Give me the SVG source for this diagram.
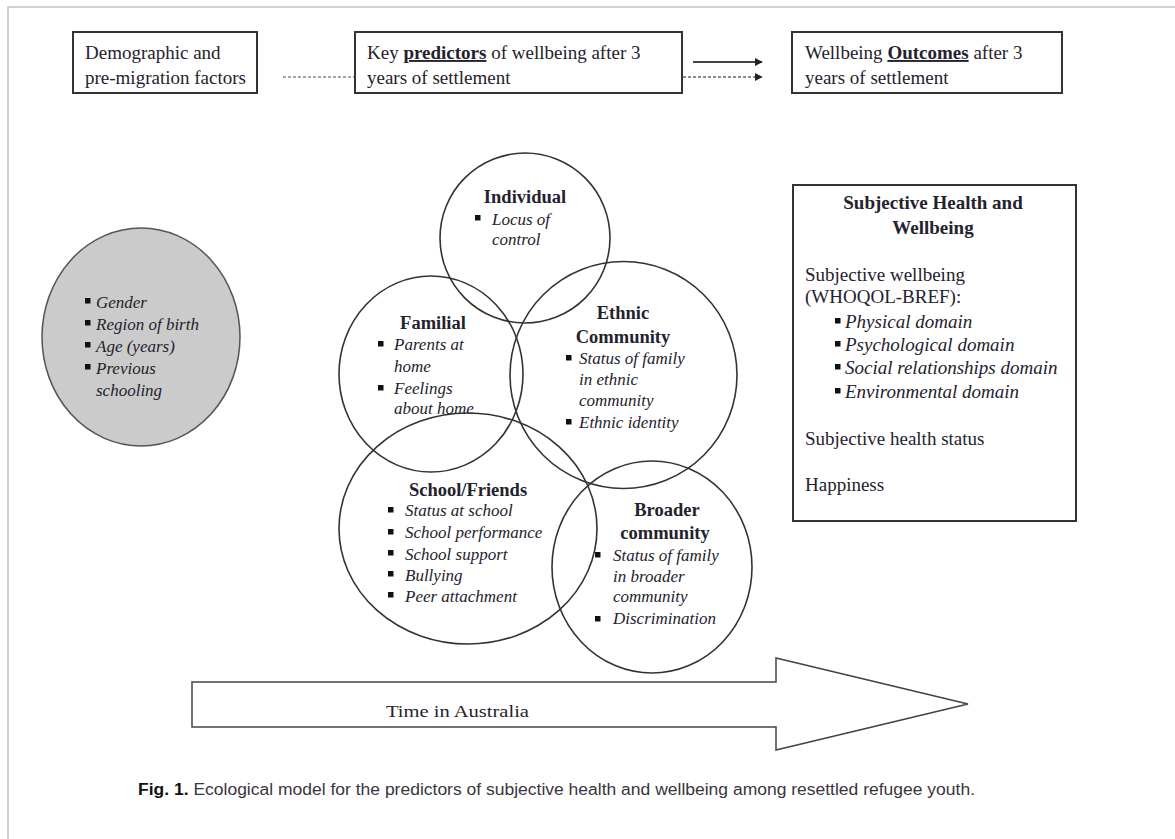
<svg xmlns="http://www.w3.org/2000/svg" width="1175" height="839" viewBox="0 0 1175 839">
<style>
.t{font-family:"Liberation Serif","Times New Roman",serif;font-size:17px;fill:#24222e}
.l{font-size:19px}
.h{font-size:18.5px}
.i{font-style:italic}
.b{font-weight:bold}
.c{text-anchor:middle}
.box{fill:#fff;stroke:#333;stroke-width:2}
.circ{fill:none;stroke:#333;stroke-width:1.6}
.bul{fill:#111}
.cap{font-family:"Liberation Sans",Arial,sans-serif;font-size:16px;fill:#3a3540}
</style>
<defs>
<marker id="ah" viewBox="0 0 10 10" refX="9" refY="5" markerWidth="8" markerHeight="8" markerUnits="userSpaceOnUse" orient="auto">
<path d="M0,0 L10,5 L0,10 z" fill="#222"/>
</marker>
</defs>
<rect width="1175" height="839" fill="#fff"/>
<path d="M8,839 V7 H1175" fill="none" stroke="#c4c4c4" stroke-width="1.5"/>

<g id="connectors">
<line x1="283" y1="77" x2="355" y2="77" stroke="#888" stroke-width="1.5" stroke-dasharray="3,2"/>
<line x1="693" y1="62" x2="762" y2="62" stroke="#444" stroke-width="2.2" marker-end="url(#ah)"/>
<line x1="683" y1="77" x2="762" y2="77" stroke="#666" stroke-width="1.6" stroke-dasharray="3,2" marker-end="url(#ah)"/>
</g>

<g id="box-demographic">
<rect class="box" x="73" y="32" width="184" height="61"/>
<text class="t l" x="85" y="59">Demographic and</text>
<text class="t l" x="85" y="84">pre-migration factors</text>
</g>

<g id="box-predictors">
<rect class="box" x="355" y="32" width="327" height="61"/>
<text class="t l" x="367" y="59">Key <tspan class="b" text-decoration="underline">predictors</tspan> of wellbeing after 3</text>
<text class="t l" x="367" y="84">years of settlement</text>
</g>

<g id="box-outcomes">
<rect class="box" x="792" y="32" width="270" height="61"/>
<text class="t l" x="805" y="59">Wellbeing <tspan class="b" text-decoration="underline">Outcomes</tspan> after 3</text>
<text class="t l" x="805" y="84">years of settlement</text>
</g>

<g id="demographic-factors">
<ellipse cx="141" cy="337" rx="99" ry="109" fill="#cbcbcb" stroke="#555" stroke-width="1.5"/>
<rect class="bul" x="85" y="298" width="5.5" height="5.5"/>
<rect class="bul" x="85" y="320" width="5.5" height="5.5"/>
<rect class="bul" x="85" y="342" width="5.5" height="5.5"/>
<rect class="bul" x="85" y="364" width="5.5" height="5.5"/>
<text class="t i" x="96" y="308">Gender</text>
<text class="t i" x="96" y="330">Region of birth</text>
<text class="t i" x="96" y="352">Age (years)</text>
<text class="t i" x="96" y="374">Previous</text>
<text class="t i" x="96" y="396">schooling</text>
</g>

<g id="individual">
<circle class="circ" cx="525" cy="238" r="85"/>
<text class="t h b c" x="525" y="203">Individual</text>
<rect class="bul" x="475" y="215" width="5.5" height="5.5"/>
<text class="t i" x="492" y="225">Locus of</text>
<text class="t i" x="492" y="245">control</text>
</g>

<g id="familial">
<ellipse class="circ" cx="431" cy="374" rx="92" ry="98"/>
<text class="t h b c" x="433" y="329">Familial</text>
<rect class="bul" x="378" y="341" width="5.5" height="5.5"/>
<rect class="bul" x="378" y="385" width="5.5" height="5.5"/>
<text class="t i" x="394" y="350">Parents at</text>
<text class="t i" x="394" y="372">home</text>
<text class="t i" x="394" y="394">Feelings</text>
<text class="t i" x="394" y="414">about home</text>
</g>

<g id="ethnic-community">
<circle class="circ" cx="623.5" cy="375" r="113.5"/>
<text class="t h b c" x="623" y="319">Ethnic</text>
<text class="t h b c" x="623" y="343">Community</text>
<rect class="bul" x="566" y="355" width="5.5" height="5.5"/>
<rect class="bul" x="566" y="419" width="5.5" height="5.5"/>
<text class="t i" x="579" y="364">Status of family</text>
<text class="t i" x="579" y="385">in ethnic</text>
<text class="t i" x="579" y="406">community</text>
<text class="t i" x="579" y="428">Ethnic identity</text>
</g>

<g id="school-friends">
<ellipse class="circ" cx="468" cy="528.5" rx="129" ry="115.5"/>
<text class="t h b c" x="468" y="496">School/Friends</text>
<rect class="bul" x="388" y="507" width="5.5" height="5.5"/>
<rect class="bul" x="388" y="529" width="5.5" height="5.5"/>
<rect class="bul" x="388" y="550" width="5.5" height="5.5"/>
<rect class="bul" x="388" y="571" width="5.5" height="5.5"/>
<rect class="bul" x="388" y="592" width="5.5" height="5.5"/>
<text class="t i" x="405" y="516">Status at school</text>
<text class="t i" x="405" y="538">School performance</text>
<text class="t i" x="405" y="560">School support</text>
<text class="t i" x="405" y="581">Bullying</text>
<text class="t i" x="405" y="602">Peer attachment</text>
</g>

<g id="broader-community">
<ellipse class="circ" cx="652" cy="567" rx="100" ry="106"/>
<text class="t h b c" x="667" y="516">Broader</text>
<text class="t h b c" x="665" y="539">community</text>
<rect class="bul" x="595" y="552" width="5.5" height="5.5"/>
<rect class="bul" x="595" y="616" width="5.5" height="5.5"/>
<text class="t i" x="613" y="561">Status of family</text>
<text class="t i" x="613" y="582">in broader</text>
<text class="t i" x="613" y="602">community</text>
<text class="t i" x="613" y="624">Discrimination</text>
</g>

<g id="outcomes-detail">
<rect class="box" x="793" y="185" width="283" height="336"/>
<text class="t l b c" x="933" y="209">Subjective Health and</text>
<text class="t l b c" x="933" y="234">Wellbeing</text>
<text class="t l" x="805" y="281">Subjective wellbeing</text>
<text class="t l" x="805" y="303">(WHOQOL-BREF):</text>
<rect class="bul" x="835" y="318" width="5.5" height="5.5"/>
<rect class="bul" x="835" y="341" width="5.5" height="5.5"/>
<rect class="bul" x="835" y="364" width="5.5" height="5.5"/>
<rect class="bul" x="835" y="388" width="5.5" height="5.5"/>
<text class="t l i" x="845" y="328">Physical domain</text>
<text class="t l i" x="845" y="351">Psychological domain</text>
<text class="t l i" x="845" y="374">Social relationships domain</text>
<text class="t l i" x="845" y="398">Environmental domain</text>
<text class="t l" x="805" y="445">Subjective health status</text>
<text class="t l" x="805" y="491">Happiness</text>
</g>

<g id="time-arrow">
<polygon points="192,682 776,682 776,658 968,704 776,750 776,727 192,727" fill="#fff" stroke="#444" stroke-width="1.5"/>
<text class="t" font-size="20" x="386" y="717" textLength="143" lengthAdjust="spacingAndGlyphs">Time in Australia</text>
</g>

<g id="caption">
<text class="cap" x="138" y="795" textLength="837" lengthAdjust="spacingAndGlyphs"><tspan font-weight="bold" fill="#111">Fig. 1.</tspan>  Ecological model for the predictors of subjective health and wellbeing among resettled refugee youth.</text>
</g>
</svg>
